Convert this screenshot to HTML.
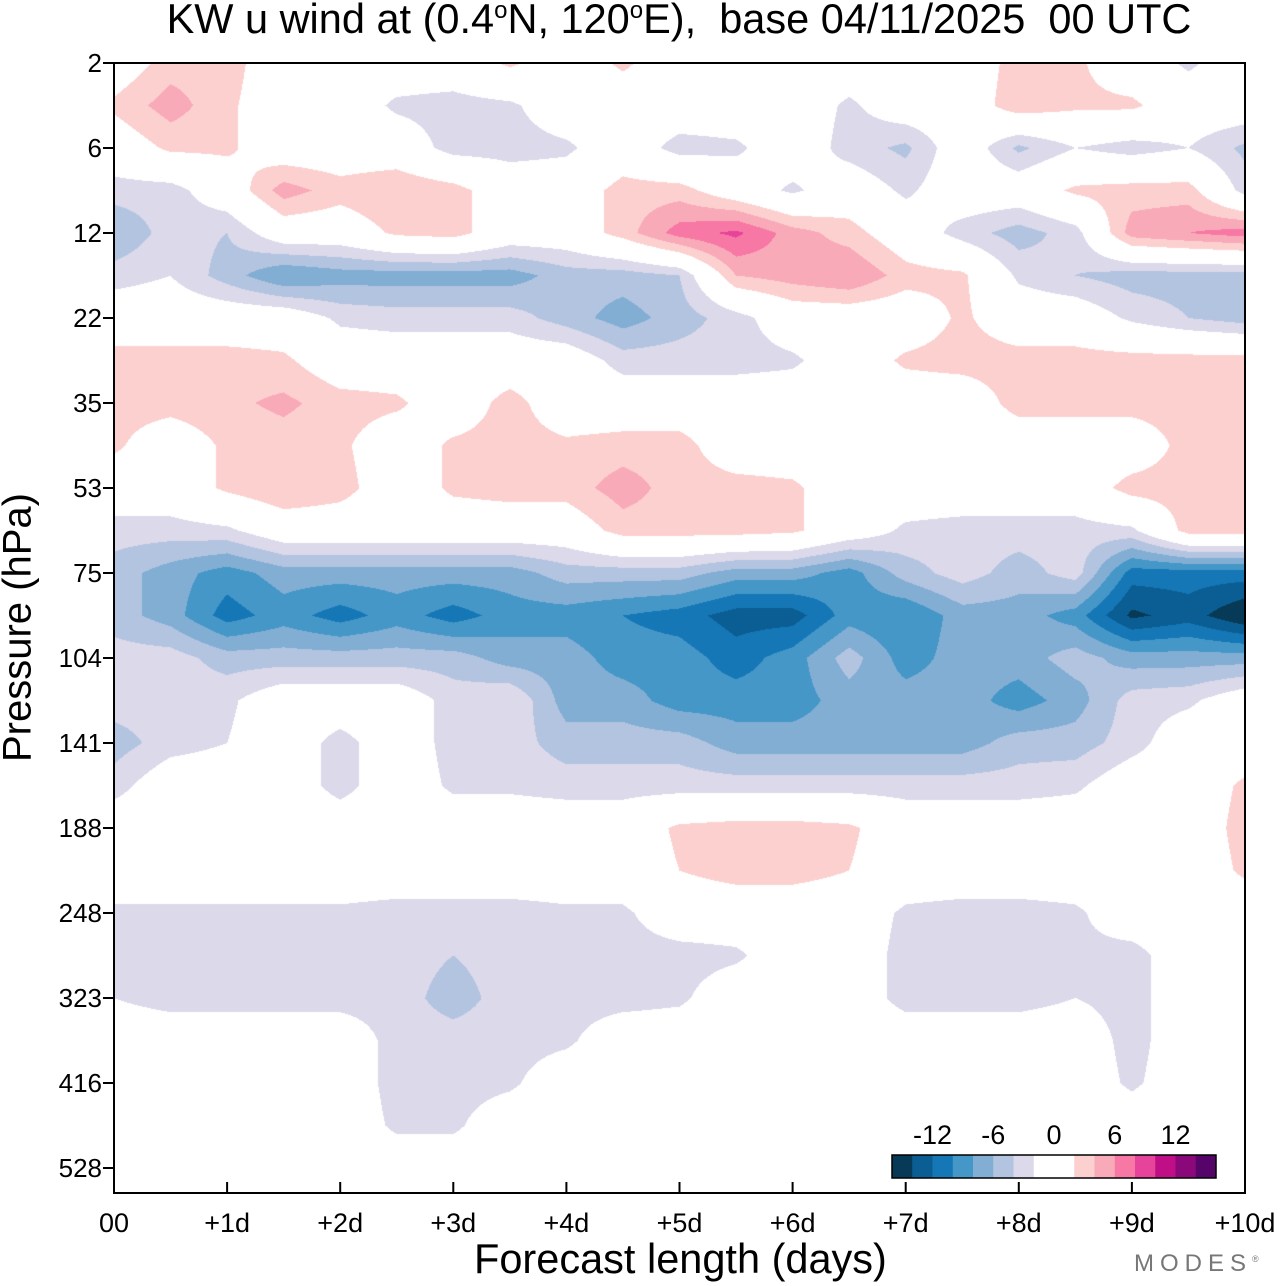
<!DOCTYPE html>
<html><head><meta charset="utf-8"><style>
body{margin:0;background:#fff;width:1280px;height:1286px;overflow:hidden;font-family:"Liberation Sans",sans-serif;position:relative}
.t{position:absolute;white-space:nowrap;color:#000}
</style></head><body>
<div class="t" style="left:0;width:1358px;text-align:center;top:-5px;font-size:41.5px;">KW u wind at (0.4<sup style="font-size:24px">o</sup>N, 120<sup style="font-size:24px">o</sup>E),&nbsp; base 04/11/2025&nbsp; 00 UTC</div>
<canvas id="cv" width="1131" height="1130" style="position:absolute;left:114px;top:63px"></canvas>
<svg id="ax" width="1280" height="1286" style="position:absolute;left:0;top:0"></svg>
<div class="t" style="left:474px;top:1235px;font-size:41.5px">Forecast length (days)</div>
<div class="t" style="left:-132px;top:605px;font-size:40px;transform:rotate(-90deg);width:300px;text-align:center">Pressure (hPa)</div>
<div class="t" style="left:1134px;top:1250px;font-size:24px;color:#777;letter-spacing:6px">MODES<sup style="font-size:9px;letter-spacing:0">®</sup></div>
<script>
const yTicks=["2","6","12","22","35","53","75","104","141","188","248","323","416","528"];
const xTicks=["00","+1d","+2d","+3d","+4d","+5d","+6d","+7d","+8d","+9d","+10d"];
const levels=[-16,-14,-12,-10,-8,-6,-4,-2,0,2,4,6,8,10,12,14,16];
const colors=["#073a56","#0b5e94","#1577b6","#4597c8","#82aed4","#b3c4e0","#dbd9ea","#ffffff","#ffffff","#fdd0d0","#f9aab8","#f778a5","#e6449a","#bf0e86","#8b087a","#560469"];
const cbLabels=[["-12",-12],["-6",-6],["0",0],["6",6],["12",12]];
const grid=[
[0,3,3,0,0,0,0,2.5,0,2.5,0,0,0,0,0,0,3,2.5,0,-2.5,0],
[2.5,5,2.5,0,0,-2.5,-3,-2.5,0,0,0,0,0,-2.5,0,0,3.5,2.5,2.5,0,0],
[0,2.5,2.5,0,0,0,-3,-3,-2.5,0,-3,-2.5,0,-3,-4.5,0,-4.5,-2,-3,-2,-4.5],
[-3,-3,0,5,3,4,3,0,0,3,3,0,-2.5,0,-2.5,0,0,2.5,3,3,-3],
[-6,-3,-4,0,0,2.5,3,0,0,3,7,8.5,5,3,0,-3,-5,-3,5,6,7],
[-3,-2,-5,-8,-7,-7,-7,-7,-5,-5,-4,4,5,6,3,2.5,-2.5,-4,-5,-5,-5],
[0,0,0,0,-2.5,-3,-3,-3,-5,-7,-5,-3,0,0,0,2.5,0,0,-2.5,-4,-5],
[3,3,3,2.5,0,0,0,0,0,-3,-3,-3,-2.5,0,2.5,3,3,3,3,3,3],
[3,3,3.5,4.5,3,2.5,0,3,0,0,0,0,0,0,0,0,3,3,3,3,3],
[2.5,0,2.5,3,2.5,0,2.5,3,2.5,3,3,0,0,0,0,0,0,0,0,3,3],
[0,0,2.5,4,3,0,2.5,3,3,5,3,3,2.5,0,0,0,0,0,3,3,3],
[-3,-3,-2.5,0,0,0,0,0,0,3,3,3,2.5,0,-2.5,-3,-3,-3,-2.5,3,3],
[-5,-7,-9,-7,-7,-7,-7,-7,-5,-5,-5,-7,-7,-9,-5,-3,-5,-3,-11,-11,-11],
[-5,-7,-11,-9,-11,-9,-11,-9,-9,-10,-11,-13,-13,-9,-10,-7,-7,-9,-14.5,-13,-16],
[-3,-3,-5,-5,-5,-5,-5,-7,-7,-9,-9,-11,-9,-5,-9,-7,-7,-5,-7,-7,-7],
[-3,-3,-2.5,0,0,0,-3,-2,-7,-7,-9,-9,-9,-7,-7,-7,-9,-7,-3,-2.5,0],
[-5,-3,-2,0,-3,0,-3,-3,-5,-5,-5,-7,-7,-7,-7,-7,-5,-5,-3,0,0],
[-3,0,0,0,-3,0,-2.5,-2.5,-3,-3,-3,-3,-3,-3,-3,-3,-3,-2.5,0,0,2.5],
[0,0,0,0,0,0,0,0,0,0,2.5,3,3,2.5,0,0,0,0,0,0,3],
[0,0,0,0,0,0,0,0,0,0,2,3,3,2,0,0,0,0,0,0,2.5],
[-2.5,-2.5,-2.5,-2.5,-2.5,-3,-3,-3,-2.5,-2.5,0,0,0,0,-2.5,-3,-3,-2.5,0,0,0],
[-3,-3,-3,-3,-3,-3,-4,-3,-3,-3,-3,-2.5,0,0,-3,-3,-3,-2.5,-3,0,0],
[-2,-3,-3,-3,-3,-3,-5,-3,-3,-3,-2.5,0,0,0,-3,-3,-3,-2,-3,0,0],
[0,0,0,0,0,-3,-3,-3,-2.5,0,0,0,0,0,0,0,0,0,-3,0,0],
[0,0,0,0,0,-3,-3,-2.5,0,0,0,0,0,0,0,0,0,0,-2.5,0,0],
[0,0,0,0,0,-2.5,-2.5,0,0,0,0,0,0,0,0,0,0,0,0,0,0],
[0,0,0,0,0,0,0,0,0,0,0,0,0,0,0,0,0,0,0,0,0],
[0,0,0,0,0,0,0,0,0,0,0,0,0,0,0,0,0,0,0,0,0]
];
const X0=114,X1=1245,Y0=63,Y1=1193,dayPx=(X1-X0)/10,tickPx=85;
function xPos(day){return X0+day*dayPx;}
function yPos(idx){return Y0+idx*tickPx;}
const cv=document.getElementById('cv'),ctx=cv.getContext('2d');
const img=ctx.createImageData(cv.width,cv.height);
const rgbCache=colors.map(c=>[parseInt(c.slice(1,3),16),parseInt(c.slice(3,5),16),parseInt(c.slice(5,7),16)]);
const nr=grid.length,nc=grid[0].length;
for(let py=0;py<cv.height;py++){
  let gy=(py+0.5)/(tickPx/2);let j=Math.min(Math.floor(gy),nr-2);let fy=Math.min(gy-j,1);
  for(let px=0;px<cv.width;px++){
    let gx=(px+0.5)/(dayPx/2);let i=Math.min(Math.floor(gx),nc-2);let fx=Math.min(gx-i,1);
    let v=grid[j][i]*(1-fx)*(1-fy)+grid[j][i+1]*fx*(1-fy)+grid[j+1][i]*(1-fx)*fy+grid[j+1][i+1]*fx*fy;
    let k=0;while(k<colors.length-1&&v>=levels[k+1])k++;
    const c=rgbCache[k],o=(py*cv.width+px)*4;
    img.data[o]=c[0];img.data[o+1]=c[1];img.data[o+2]=c[2];img.data[o+3]=255;
  }
}
ctx.putImageData(img,0,0);
const NS='http://www.w3.org/2000/svg',svg=document.getElementById('ax');
function mk(tag,attrs,parent){const e=document.createElementNS(NS,tag);for(const k in attrs)e.setAttribute(k,attrs[k]);(parent||svg).appendChild(e);return e;}
const frame=mk('rect',{x:X0,y:Y0,width:X1-X0,height:Y1-Y0,fill:'none',stroke:'#000','stroke-width':2});


yTicks.forEach((t,i)=>{
  const y=yPos(i);
  const l=mk('line',{x1:X0-11,x2:X0,y1:y,y2:y,stroke:'#000','stroke-width':2});
  
  
  const tx=mk('text',{x:X0-12,y:y+9,'text-anchor':'end','font-size':26,'font-family':'Liberation Sans, sans-serif'});
  tx.textContent=t;
  
  
});
xTicks.forEach((t,i)=>{
  const x=xPos(i);
  const l=mk('line',{x1:x,x2:x,y1:Y1,y2:Y1-11,stroke:'#000','stroke-width':2});
  
  
  const tx=mk('text',{x:x,y:Y1+39,'text-anchor':'middle','font-size':27,'font-family':'Liberation Sans, sans-serif'});
  tx.textContent=t;
  
  
});
const cbX=892,cbW=324,cbY=1155,cbH=23,cbUnit=cbW/(levels[levels.length-1]-levels[0]);
function cbx(v){return cbX+(v-levels[0])*cbUnit;}
colors.forEach((c,k)=>{
  const r=mk('rect',{x:cbx(levels[k]),y:cbY,width:cbx(levels[k+1])-cbx(levels[k])+0.5,height:cbH,fill:c});
  
  
});
const cbf=mk('rect',{x:cbX,y:cbY,width:cbW,height:cbH,fill:'none',stroke:'#000','stroke-width':1.5});


cbLabels.forEach(([t,v])=>{
  const tx=mk('text',{x:cbx(v),y:cbY-11,'text-anchor':'middle','font-size':27,'font-family':'Liberation Sans, sans-serif'});
  tx.textContent=t;
  
  
});
</script>
</body></html>
